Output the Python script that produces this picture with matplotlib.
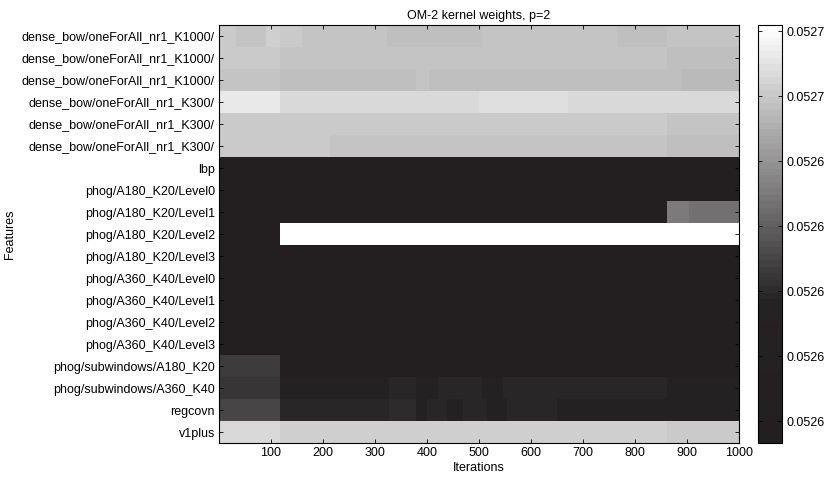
import numpy as np
import matplotlib
matplotlib.use("Agg")
import matplotlib.pyplot as plt
from matplotlib.colors import LinearSegmentedColormap

plt.rcParams['font.family'] = ['Liberation Sans', 'DejaVu Sans']

features = [
    'dense_bow/oneForAll_nr1_K1000/',
    'dense_bow/oneForAll_nr1_K1000/',
    'dense_bow/oneForAll_nr1_K1000/',
    'dense_bow/oneForAll_nr1_K300/',
    'dense_bow/oneForAll_nr1_K300/',
    'dense_bow/oneForAll_nr1_K300/',
    'lbp',
    'phog/A180_K20/Level0',
    'phog/A180_K20/Level1',
    'phog/A180_K20/Level2',
    'phog/A180_K20/Level3',
    'phog/A360_K40/Level0',
    'phog/A360_K40/Level1',
    'phog/A360_K40/Level2',
    'phog/A360_K40/Level3',
    'phog/subwindows/A180_K20',
    'phog/subwindows/A360_K40',
    'regcovn',
    'v1plus',
]

# per feature: iteration breakpoints and the weight inside each segment
row_edges = [
    [0, 32, 90, 118, 160, 323, 506, 765, 861, 1000],
    [0, 118, 840, 861, 1000],
    [0, 118, 160, 378, 403, 891, 1000],
    [0, 118, 500, 520, 672, 861, 1000],
    [0, 118, 861, 1000],
    [0, 118, 214, 378, 470, 861, 1000],
    [0, 1000],
    [0, 1000],
    [0, 861, 903, 1000],
    [0, 118, 1000],
    [0, 1000],
    [0, 1000],
    [0, 1000],
    [0, 1000],
    [0, 1000],
    [0, 118, 1000],
    [0, 118, 326, 378, 422, 506, 547, 861, 1000],
    [0, 118, 326, 378, 400, 438, 470, 515, 553, 650, 1000],
    [0, 118, 861, 1000],
]
row_vals = [
    [0.0526540, 0.0526536, 0.0526546, 0.0526540, 0.0526537, 0.0526532, 0.0526536, 0.0526532, 0.0526534],
    [0.0526543, 0.0526536, 0.0526538, 0.0526533],
    [0.0526537, 0.0526532, 0.0526533, 0.0526537, 0.0526531, 0.0526527],
    [0.0526578, 0.0526563, 0.0526565, 0.0526567, 0.0526563, 0.0526560],
    [0.0526545, 0.0526540, 0.0526536],
    [0.0526543, 0.0526540, 0.0526535, 0.0526538, 0.0526535, 0.0526532],
    [0.0526230],
    [0.0526230],
    [0.0526230, 0.0526451, 0.0526442],
    [0.0526230, 0.0526604],
    [0.0526230],
    [0.0526230],
    [0.0526230],
    [0.0526230],
    [0.0526230],
    [0.0526378, 0.0526230],
    [0.0526376, 0.0526350, 0.0526356, 0.0526350, 0.0526356, 0.0526348, 0.0526357, 0.0526350],
    [0.0526390, 0.0526354, 0.0526359, 0.0526352, 0.0526356, 0.0526348, 0.0526356, 0.0526351, 0.0526356, 0.0526350],
    [0.0526560, 0.0526550, 0.0526545],
]

cbar_ticks = [0.052624, 0.052630, 0.052636, 0.052642, 0.052648, 0.052654, 0.052660]
vmin, vmax = 0.0526220, 0.0526606

weights = np.array([np.repeat(v, np.diff(e)) for e, v in zip(row_edges, row_vals)])

cmap = LinearSegmentedColormap.from_list(
    'printgray', [(0.0, '#231f20'), (0.337, '#252223'), (1.0, '#ffffff')], N=64)

fig = plt.figure(figsize=(8.32, 4.78), dpi=100)
ax = fig.add_axes([219 / 832, 35 / 478, 520 / 832, 418 / 478])
cax = fig.add_axes([758 / 832, 35 / 478, 24 / 832, 418 / 478])

im = ax.imshow(weights, cmap=cmap, vmin=vmin, vmax=vmax, aspect='auto',
               interpolation='nearest', extent=[0.5, 1000.5, len(features) - 0.5, -0.5])

ax.set_yticks(range(len(features)))
ax.set_yticklabels(features, fontsize=9)
ax.set_xticks(range(100, 1001, 100))
ax.tick_params(axis='x', labelsize=9)
ax.tick_params(direction='in', top=True, right=True, length=3, width=0.6, pad=3)
ax.set_xlabel('Iterations', fontsize=9, labelpad=2)
ax.set_ylabel('Features', fontsize=9, labelpad=4)
ax.set_title('OM-2 kernel weights, p=2', fontsize=9, pad=4)
for s in ax.spines.values():
    s.set_linewidth(0.8)

cb = fig.colorbar(im, cax=cax)
cb.set_ticks(cbar_ticks)
cb.ax.yaxis.set_major_formatter(matplotlib.ticker.FormatStrFormatter('%.4f'))
cb.ax.tick_params(direction='in', left=True, right=True, length=3, width=0.6, labelsize=9, pad=3)
cb.outline.set_linewidth(0.8)

fig.savefig('out.png', dpi=100)
